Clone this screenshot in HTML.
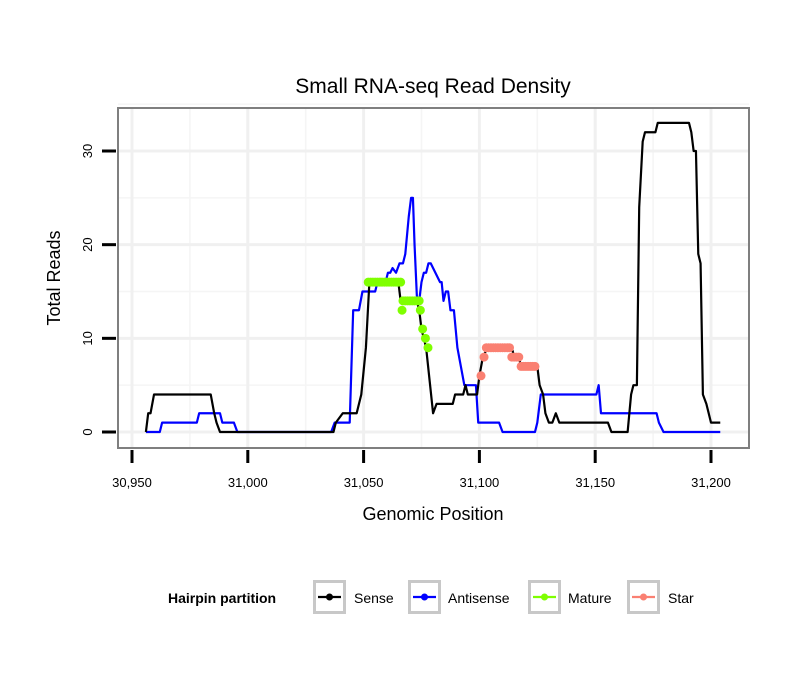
<!DOCTYPE html>
<html><head><meta charset="utf-8"><style>
body{margin:0;background:#fff;}
svg text{font-family:"Liberation Sans",Arial,sans-serif;}
</style></head><body>
<svg id="chart" width="810" height="690" xmlns="http://www.w3.org/2000/svg">
<rect width="810" height="690" fill="#fff"/>
<text x="433" y="93" font-size="21" text-anchor="middle">Small RNA-seq Read Density</text>
<g id="grid"></g>
<g id="series"></g>
<rect x="118" y="108" width="631" height="340" fill="none" stroke="#7f7f7f" stroke-width="2"/>
<g id="axes"></g>
<text x="433" y="520" font-size="18" text-anchor="middle">Genomic Position</text>
<text transform="translate(60,278) rotate(-90)" font-size="18" text-anchor="middle">Total Reads</text>
<g id="legend">
<text x="168" y="603" font-size="14" font-weight="bold">Hairpin partition</text>
</g>
</svg>
<script>
const xTicks=[30950,31000,31050,31100,31150,31200];
const yTicks=[0,10,20,30];
const senseX=[30956,30957,30958,30959.5,30984,30985.5,30986.5,30988,31037,31038,31041,31047,31049,31051,31052.5,31065,31066,31073,31074,31075,31076,31077,31080,31081.5,31088.5,31089.5,31093,31094,31095,31099,31100,31101.5,31103.5,31114,31115,31117,31118,31125,31126,31127.5,31128.5,31130,31131.5,31133,31134.5,31155.5,31157,31164,31165.5,31166.5,31168,31169,31170.5,31171.5,31176,31177,31190.5,31191.5,31192.5,31193.5,31194.5,31195.5,31196.5,31198,31200,31204];
const senseY=[0,2,2,4,4,2,1,0,0,1,2,2,4,9,16,16,14,14,13,11,10,9,2,3,3,4,4,5,4,4,6,8,9,9,8,8,7,7,5,4,2,1,1,2,1,1,0,0,4,5,5,24,31,32,32,33,33,32,30,30,19,18,4,3,1,1];
const antisenseX=[30956,30962,30963,30978,30979,30988,30989,30994,30995.5,31036,31037.5,31044,31045.5,31048,31049.5,31055,31056,31059.5,31060.5,31061.5,31062.5,31064,31065.5,31067,31068,31069.5,31070.5,31071.3,31072,31073,31074,31075,31076,31077,31078,31079,31083,31083.7,31084.5,31085.5,31086.5,31087.5,31089,31090.5,31092,31093.5,31098.5,31099.5,31108.5,31110,31124,31125,31126.5,31150.5,31151.5,31152.5,31176.5,31177.5,31179.5,31204];
const antisenseY=[0,0,1,1,2,2,1,1,0,0,1,1,13,13,15,15,16,16,17,17,17.5,17,18,18,19,23,25,25,20,14.5,14,16,17,17,18,18,16,16,14,15,15,13,13,9,7,5,5,1,1,0,0,1,4,4,5,2,2,1,0,0];
const matureX=[31052,31053,31054,31055,31056,31057,31058,31059,31060,31061,31062,31063,31064,31065,31066,31066.6,31067,31068,31069,31070,31071,31072,31073,31074,31074.5,31075.5,31076.7,31077.8];
const matureY=[16,16,16,16,16,16,16,16,16,16,16,16,16,16,16,13,14,14,14,14,14,14,14,14,13,11,10,9];
const starX=[31100.7,31102,31103,31104,31105,31106,31107,31108,31109,31110,31111,31112,31113,31114,31115,31116,31117,31118,31119,31120,31121,31122,31123,31124];
const starY=[6,8,9,9,9,9,9,9,9,9,9,9,9,8,8,8,8,7,7,7,7,7,7,7];

const NS='http://www.w3.org/2000/svg';
const L=118,R=749,T=108,B=448;
const xs=v=>132+(v-30950)*(579/250);
const ys=v=>432-v*(281/30);
function mk(tag,attrs,parent){const e=document.createElementNS(NS,tag);for(const k in attrs)e.setAttribute(k,attrs[k]);parent.appendChild(e);return e;}
const grid=document.getElementById('grid'),axes=document.getElementById('axes'),ser=document.getElementById('series');
for(let i=0;i<xTicks.length-1;i++){const v=(xTicks[i]+xTicks[i+1])/2;const g=mk('line',{x1:xs(v),x2:xs(v),y1:T,y2:B,stroke:'#f5f5f5','stroke-width':1.5},grid);

}
for(let i=0;i<yTicks.length;i++){const v=yTicks[i]+5;const g=mk('line',{x1:L,x2:R,y1:ys(v),y2:ys(v),stroke:'#f5f5f5','stroke-width':1.5},grid);

}
xTicks.forEach(v=>{const g=mk('line',{x1:xs(v),x2:xs(v),y1:T,y2:B,stroke:'#f0f0f0','stroke-width':3},grid);


const t=mk('line',{x1:xs(v),x2:xs(v),y1:450,y2:463,stroke:'#000','stroke-width':3},axes);


const tx=mk('text',{x:xs(v),y:487,'font-size':13,'text-anchor':'middle'},axes);tx.textContent=v.toLocaleString('en-US');

});
yTicks.forEach(v=>{const g=mk('line',{x1:L,x2:R,y1:ys(v),y2:ys(v),stroke:'#f0f0f0','stroke-width':3},grid);


const t=mk('line',{x1:102,x2:116,y1:ys(v),y2:ys(v),stroke:'#000','stroke-width':3},axes);


const tx=mk('text',{transform:`translate(92,${ys(v)}) rotate(-90)`,'font-size':13,'text-anchor':'middle'},axes);tx.textContent=v;

});
function line(X,Y,color,name){const p=mk('polyline',{points:X.map((x,i)=>xs(x)+','+ys(Y[i])).join(' '),fill:'none',stroke:color,'stroke-width':2.2,'stroke-linejoin':'round'},ser);

}
line(antisenseX,antisenseY,'#0000ff','antisense-line');
line(senseX,senseY,'#000000','sense-line');
function pts(X,Y,color,name){X.forEach((x,i)=>{const c=mk('circle',{cx:xs(x),cy:ys(Y[i]),r:4.5,fill:color},ser);

});}
pts(matureX,matureY,'#7fff00','mature-point');
pts(starX,starY,'#fa8072','star-point');
const lg=document.getElementById('legend');
[['Sense','#000',313,354],['Antisense','#0000ff',408,448],['Mature','#7fff00',528,568],['Star','#fa8072',627,668]].forEach(([n,c,bx,tx])=>{
const g=mk('g',{},lg);


mk('rect',{x:bx+1.5,y:581.5,width:30,height:31,fill:'#fff',stroke:'#c8c8c8','stroke-width':3},g);
mk('line',{x1:bx+5,x2:bx+28,y1:597,y2:597,stroke:c,'stroke-width':2.2},g);
mk('circle',{cx:bx+16.5,cy:597,r:3.5,fill:c},g);
const t=mk('text',{x:tx,y:603,'font-size':14},g);t.textContent=n;});
</script>
</body></html>
